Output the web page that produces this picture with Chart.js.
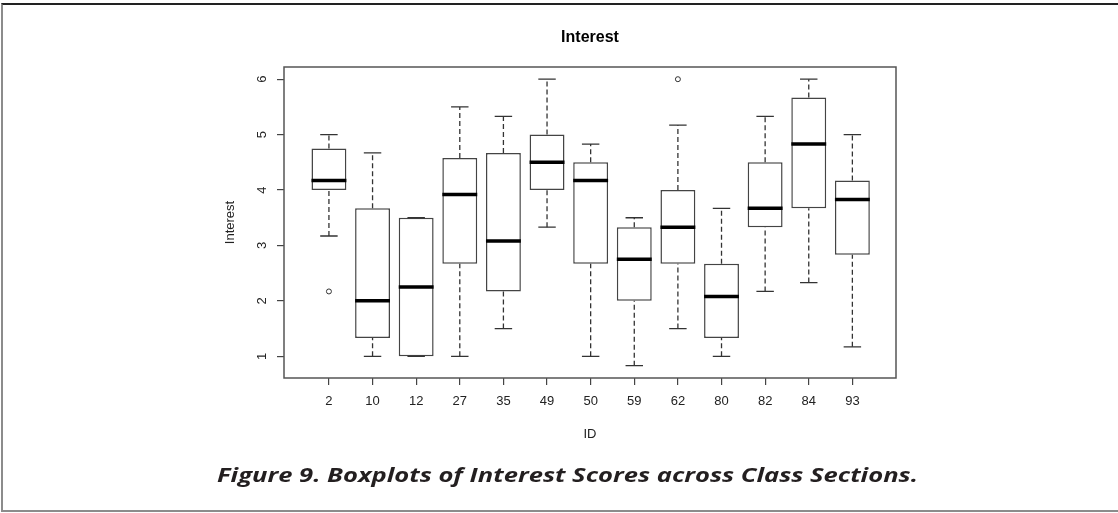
<!DOCTYPE html>
<html><head><meta charset="utf-8">
<script src="https://cdn.jsdelivr.net/npm/chart.js@4/dist/chart.umd.min.js"></script>
<style>
html,body{margin:0;padding:0;background:#fff;width:1118px;height:513px;overflow:hidden;}
#frame{position:absolute;left:1px;top:3px;width:1130px;height:505px;border-top:2px solid #222;border-left:2px solid #8c8c8c;border-bottom:2px solid #8c8c8c;}
#c{position:absolute;left:0;top:0;}
#cap{position:absolute;left:217px;top:463px;font-family:"Open Sans";font-style:italic;font-weight:700;font-size:20px;line-height:24px;color:#231f20;white-space:nowrap;transform-origin:0 50%;}
</style></head>
<body>
<div id="frame"></div>
<canvas id="c" width="1118" height="513"></canvas>
<div id="cap">Figure 9. Boxplots of Interest Scores across Class Sections.</div>
<script>
// ---- data ----
const ids      = ['2','10','12','27','35','49','50','59','62','80','82','84','93'];
const mins     = [3.17, 1.00, 1.00, 1.00, 1.50, 3.33, 1.00, 0.83, 1.50, 1.00, 2.17, 2.33, 1.17];
const q1s      = [4.00, 1.33, 1.00, 2.67, 2.17, 4.00, 2.67, 2.00, 2.67, 1.33, 3.33, 3.67, 2.83];
const medians  = [4.17, 2.00, 2.25, 3.92, 3.08, 4.50, 4.17, 2.75, 3.33, 2.08, 3.67, 4.83, 3.83];
const q3s      = [4.75, 3.67, 3.50, 4.58, 4.67, 5.00, 4.50, 3.33, 4.00, 2.67, 4.50, 5.67, 4.17];
const maxs     = [5.00, 4.67, 3.50, 5.50, 5.33, 6.00, 4.83, 3.50, 5.17, 3.67, 5.33, 6.00, 5.00];
const outlierGroup = ['2', '62'];
const outlierVals  = [2.17, 6.00];
const yTicks   = [1, 2, 3, 4, 5, 6];

// ---- derived structures for the library ----
const pos = i => i + 1;
function segs(fn){
  const out = [];
  ids.forEach((id, i) => { fn(i).forEach(p => out.push(p)); out.push({x: pos(i), y: null}); });
  return out;
}
const boxData = ids.map((id, i) => ({x: pos(i), y: [q1s[i], q3s[i]]}));
const medianData = segs(i => [{x: pos(i) - 0.4, y: medians[i]}, {x: pos(i) + 0.4, y: medians[i]}]);
const whiskerUp = segs(i => [{x: pos(i), y: q3s[i]}, {x: pos(i), y: maxs[i]}]);
const whiskerLo = segs(i => [{x: pos(i), y: mins[i]}, {x: pos(i), y: q1s[i]}]);
const capData = segs(i => [{x: pos(i) - 0.2, y: maxs[i]}, {x: pos(i) + 0.2, y: maxs[i]}, {x: pos(i), y: null},
                           {x: pos(i) - 0.2, y: mins[i]}, {x: pos(i) + 0.2, y: mins[i]}]);
const outlierData = outlierGroup.map((g, k) => ({x: pos(ids.indexOf(g)), y: outlierVals[k]}));

const FONT = '"Liberation Sans", Arial, sans-serif';

const plotBox = {
  id: 'plotBox',
  afterDraw(chart){
    const {ctx, chartArea: a} = chart;
    ctx.save();
    ctx.strokeStyle = '#555'; ctx.lineWidth = 1.5;
    ctx.strokeRect(a.left, a.top, a.right - a.left, a.bottom - a.top);
    const s = chart.scales.y;
    ctx.font = '13px ' + FONT; ctx.fillStyle = '#222';
    ctx.textAlign = 'center'; ctx.textBaseline = 'middle';
    yTicks.forEach(v => {
      const y = s.getPixelForValue(v);
      ctx.save(); ctx.translate(s.right - 22, y); ctx.rotate(-Math.PI / 2);
      ctx.fillText(String(v), 0, 0); ctx.restore();
    });
    ctx.restore();
  }
};

new Chart(document.getElementById('c'), {
  type: 'bar',
  data: {
    datasets: [
      {type: 'bar', data: boxData, backgroundColor: '#fff', borderColor: '#444', borderWidth: 1.5,
       borderSkipped: false, barPercentage: 0.8, categoryPercentage: 1, order: 10},
      {type: 'line', data: whiskerUp, borderColor: '#333', borderWidth: 1.3, borderDash: [5, 3],
       pointRadius: 0, spanGaps: false, order: 5},
      {type: 'line', data: whiskerLo, borderColor: '#333', borderWidth: 1.3, borderDash: [5, 3],
       pointRadius: 0, spanGaps: false, order: 5},
      {type: 'line', data: capData, borderColor: '#333', borderWidth: 1.3,
       pointRadius: 0, spanGaps: false, order: 4},
      {type: 'line', data: medianData, borderColor: '#000', borderWidth: 3.5, borderCapStyle: 'butt',
       pointRadius: 0, spanGaps: false, order: 1},
      {type: 'line', data: outlierData, showLine: false, pointRadius: 2.5, pointBorderWidth: 1,
       pointBorderColor: '#333', pointBackgroundColor: '#fff', order: 0}
    ]
  },
  options: {
    responsive: false, animation: false,
    layout: {padding: {left: 222, right: 222, top: 10, bottom: 45}},
    plugins: {
      legend: {display: false}, tooltip: {enabled: false},
      title: {display: true, text: 'Interest', fullSize: false, color: '#000',
              font: {family: FONT, size: 16, weight: 'bold'}, padding: {top: 18.4, bottom: 19.4}}
    },
    scales: {
      x: {
        type: 'linear', min: -0.03, max: 14.0, offset: false,
        afterBuildTicks: s => { s.ticks = ids.map((id, i) => ({value: pos(i)})); },
        afterFit: s => { s.height = 90; },
        grid: {display: true, offset: false, drawOnChartArea: false, drawTicks: true, tickLength: 7, color: '#444', lineWidth: 1.2},
        border: {display: false},
        ticks: {callback: (v, i) => ids[i], font: {family: FONT, size: 13}, color: '#222', padding: 9,
                autoSkip: false, maxRotation: 0, minRotation: 0},
        title: {display: true, text: 'ID', font: {family: FONT, size: 13}, color: '#222', padding: {top: 5, bottom: 26}}
      },
      y: {
        type: 'linear', min: 0.608, max: 6.22,
        afterBuildTicks: s => { s.ticks = yTicks.map(v => ({value: v})); },
        afterFit: s => { s.width = 62; },
        grid: {display: true, drawOnChartArea: false, drawTicks: true, tickLength: 7, color: '#444', lineWidth: 1.2},
        border: {display: false},
        ticks: {display: false},
        title: {display: true, text: 'Interest', font: {family: FONT, size: 13}, color: '#222', padding: {top: 1, bottom: 1}}
      }
    }
  },
  plugins: [plotBox]
});

const cap = document.getElementById('cap');
const w = cap.getBoundingClientRect().width;
cap.style.transform = 'scaleX(' + (701 / w) + ')';
</script>
</body></html>
